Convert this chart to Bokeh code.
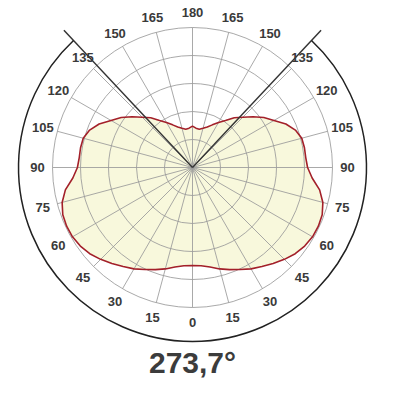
import math
from bokeh.plotting import figure
from bokeh.embed import file_html
from bokeh.resources import INLINE
from bokeh.core.properties import value

# ---- data ----
angles_deg = [0, 5, 10, 15, 20, 25, 30, 35, 40, 45, 50, 55, 60, 65, 70, 75, 80, 85, 90,
              95, 100, 105, 110, 115, 120, 125, 130, 135, 140, 145, 150, 155, 160, 165,
              170, 175, 180]
intensity = [350, 352, 361, 375, 388, 402, 418, 432, 448, 464, 479, 489, 495, 496, 493,
             482, 461, 429, 411, 406, 406, 404, 391, 368, 336, 311, 282, 254, 232, 205,
             186, 168, 154, 145, 139, 141, 148]
ring_values = [100, 200, 300, 400, 500]
tick_angles = [0, 15, 30, 45, 60, 75, 90, 105, 120, 135, 150, 165, 180]
beam_angle = 273.7

# ---- styling constants ----
PX_PER_UNIT = 0.28      # pixels per intensity unit
GRID_R = 140
LABEL_R = 155
ARC_R = 174
BEAM_LINE_R = 188

W, H = 384, 384
p = figure(width=W, height=H, x_range=(-192, 192), y_range=(-217, 167),
           output_backend="svg", toolbar_location=None, min_border=0)
p.axis.visible = False
p.grid.visible = False
p.outline_line_color = None
p.background_fill_color = "white"
p.border_fill_color = "white"

# curve polygon (symmetric)
xs, ys = [], []
for a, v in zip(angles_deg, intensity):
    r = v * PX_PER_UNIT
    t = math.radians(a)
    xs.append(r * math.sin(t)); ys.append(-r * math.cos(t))
for a, v in zip(reversed(angles_deg), reversed(intensity)):
    r = v * PX_PER_UNIT
    t = math.radians(a)
    xs.append(-r * math.sin(t)); ys.append(-r * math.cos(t))

p.patch(xs, ys, fill_color="#f8f8dc", line_color=None)

# grid
grid_col = "#9a9a9a"
sx, sy = [], []
for k in range(24):
    t = math.radians(k * 15)
    sx.append([0, GRID_R * math.sin(t)]); sy.append([0, -GRID_R * math.cos(t)])
p.multi_line(sx, sy, line_color=grid_col, line_width=1, line_alpha=0.85)
p.circle(x=[0]*len(ring_values), y=[0]*len(ring_values),
         radius=[v * PX_PER_UNIT for v in ring_values],
         fill_color=None, line_color=grid_col, line_width=1, line_alpha=0.85)

# curve outline
p.line(xs, ys, line_color="#a3202a", line_width=1.6)

# beam lines and arc
half = beam_angle / 2.0
th = math.radians(half)
p.multi_line([[0, BEAM_LINE_R * math.sin(th)], [0, -BEAM_LINE_R * math.sin(th)]],
             [[0, -BEAM_LINE_R * math.cos(th)], [0, -BEAM_LINE_R * math.cos(th)]],
             line_color="#333333", line_width=1.4)
p.arc(x=0, y=0, radius=ARC_R,
      start_angle=math.radians(-90 - half) + 2 * math.pi,
      end_angle=math.radians(half - 90) + 2 * math.pi,
      direction="anticlock", line_color="#222222", line_width=1.5)

# labels
lx, ly, lt = [], [], []
for a in tick_angles:
    t = math.radians(a)
    lx.append(LABEL_R * math.sin(t)); ly.append(-LABEL_R * math.cos(t)); lt.append(str(a))
    if a not in (0, 180):
        lx.append(-LABEL_R * math.sin(t)); ly.append(-LABEL_R * math.cos(t)); lt.append(str(a))
p.text(lx, ly, text=lt, text_align="center", text_baseline="middle",
       text_font=value("Liberation Sans"), text_font_size="13px",
       text_font_style="bold", text_color="#3a3a3a")

title = f"{beam_angle:.1f}°".replace(".", ",")
p.text([0], [-195], text=[title], text_align="center", text_baseline="middle",
       text_font=value("Liberation Sans"), text_font_size="30px",
       text_font_style="bold", text_color="#3c3c3c")

open("out.html", "w").write(file_html(p, INLINE))
